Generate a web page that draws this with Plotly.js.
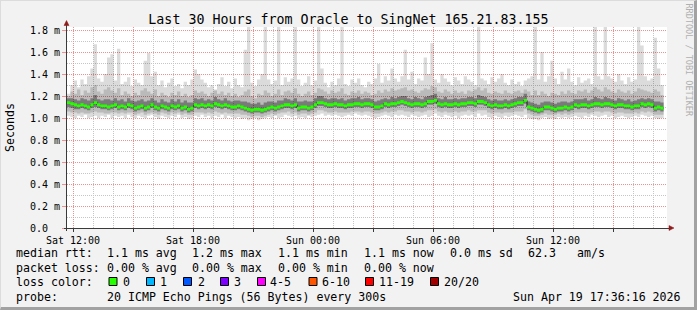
<!DOCTYPE html>
<html><head><meta charset="utf-8">
<script src="https://cdn.plot.ly/plotly-3.0.1.min.js"></script>
<style>
html,body{margin:0;padding:0;background:#f2f2f2;overflow:hidden;}
#wrap{position:relative;width:697px;height:310px;}
#chart{width:697px;height:310px;}
#frame{position:absolute;left:0;top:0;width:697px;height:310px;box-sizing:border-box;border-top:1px solid #dcdcdc;border-left:1px solid #dcdcdc;border-right:3px solid #a2a2a2;border-bottom:3px solid #a2a2a2;pointer-events:none;}
</style></head><body>
<div id="wrap"><div id="chart"></div><div id="frame"></div></div>
<script>
// ---- data (seconds, in milli units as shown on the axis) ----
const titleText = 'Last 30 Hours from Oracle to SingNet 165.21.83.155';
const yTitle = 'Seconds';
const watermark = 'RRDTOOL / TOBI OETIKER';

const med = [1.14,1.13,1.12,1.11,1.12,1.11,1.10,1.12,1.14,1.12,
1.11,1.11,1.10,1.11,1.12,1.10,1.11,1.10,1.12,1.11,
1.09,1.10,1.11,1.09,1.10,1.12,1.10,1.09,1.11,1.10,
1.09,1.11,1.10,1.11,1.09,1.10,1.08,1.09,1.12,1.11,
1.12,1.11,1.12,1.11,1.13,1.12,1.11,1.12,1.11,1.10,
1.10,1.11,1.10,1.09,1.08,1.07,1.08,1.08,1.07,1.08,
1.09,1.10,1.09,1.10,1.11,1.12,1.12,1.11,1.12,1.09,
1.10,1.10,1.09,1.10,1.12,1.14,1.14,1.13,1.12,1.12,
1.13,1.12,1.12,1.11,1.12,1.12,1.13,1.13,1.12,1.13,
1.13,1.12,1.10,1.10,1.11,1.13,1.12,1.13,1.13,1.14,
1.15,1.14,1.13,1.12,1.13,1.13,1.12,1.13,1.15,1.15,
1.16,1.13,1.12,1.13,1.12,1.12,1.13,1.12,1.13,1.13,
1.14,1.14,1.13,1.15,1.15,1.14,1.12,1.11,1.12,1.11,
1.11,1.12,1.11,1.12,1.13,1.14,1.14,1.16,1.10,1.09,
1.08,1.07,1.08,1.10,1.10,1.09,1.08,1.09,1.09,1.10,
1.09,1.10,1.12,1.11,1.12,1.12,1.11,1.12,1.13,1.13,
1.12,1.13,1.13,1.12,1.11,1.12,1.12,1.11,1.11,1.10,
1.11,1.11,1.13,1.12,1.13,1.12,1.09,1.10,1.09];

const maxV = [1.22,1.30,1.34,1.28,1.35,1.31,1.38,1.45,1.67,1.36,
1.33,1.40,1.55,1.58,1.34,1.63,1.31,1.33,1.37,1.29,
1.35,1.32,1.30,1.52,1.59,1.38,1.42,1.30,1.34,1.28,
1.32,1.36,1.29,1.31,1.27,1.33,1.30,1.35,1.44,1.40,
1.35,1.32,1.28,1.30,1.26,1.31,1.37,1.29,1.33,1.27,
1.36,1.30,1.28,1.62,1.90,1.32,1.29,1.35,1.40,1.90,
1.35,1.31,1.34,1.90,1.30,1.37,1.33,1.36,1.90,1.35,
1.29,1.32,1.38,1.30,1.34,1.90,1.45,1.32,1.28,1.33,
1.30,1.36,1.90,1.31,1.29,1.35,1.32,1.36,1.30,1.28,
1.33,1.31,1.36,1.49,1.32,1.38,1.34,1.45,1.36,1.33,
1.38,1.62,1.35,1.42,1.31,1.36,1.34,1.55,1.40,1.68,
1.35,1.32,1.40,1.36,1.33,1.30,1.37,1.34,1.31,1.38,
1.35,1.33,1.30,1.90,1.36,1.34,1.31,1.37,1.33,1.36,
1.40,1.32,1.30,1.35,1.31,1.33,1.29,1.34,1.36,1.38,
1.90,1.35,1.60,1.33,1.38,1.52,1.36,1.31,1.42,1.35,
1.45,1.33,1.30,1.37,1.32,1.34,1.36,1.31,1.90,1.38,
1.35,1.90,1.38,1.36,1.33,1.40,1.34,1.31,1.37,1.33,
1.35,1.90,1.66,1.38,1.34,1.36,1.73,1.45,1.30];

const minV = [1.02,1.01,1.00,1.02,1.01,1.03,1.00,1.01,1.02,1.00,
1.02,1.01,1.03,1.00,1.02,1.01,1.02,1.00,1.03,1.01,
1.00,1.02,1.01,1.00,1.02,1.03,1.01,0.99,1.02,1.01,
1.00,1.02,1.01,1.03,1.00,1.01,0.99,1.00,1.02,1.01,
1.03,1.01,1.02,1.00,1.02,1.01,1.03,1.00,1.02,1.01,
1.00,1.01,0.99,1.00,0.98,0.99,1.00,0.98,0.99,1.00,
1.01,1.00,1.02,1.00,1.01,1.03,1.02,1.01,1.02,1.00,
1.01,1.00,1.02,1.01,1.02,1.03,1.04,1.02,1.03,1.02,
1.03,1.02,1.01,1.02,1.03,1.02,1.04,1.03,1.02,1.03,
1.02,1.01,1.00,1.01,1.02,1.03,1.02,1.01,1.03,1.02,
1.03,1.02,1.01,1.03,1.02,1.01,1.02,1.03,1.01,1.02,
1.04,1.02,1.01,1.03,1.02,1.01,1.02,1.00,1.02,1.03,
1.02,1.03,1.01,1.04,1.02,1.03,1.01,1.00,1.02,1.01,
1.00,1.02,1.01,1.02,1.03,1.02,1.01,1.03,1.00,0.99,
0.99,0.98,1.00,1.01,0.99,1.00,0.99,1.01,1.00,1.01,
1.00,1.01,1.02,1.01,1.00,1.02,1.01,1.03,1.02,1.01,
1.02,1.03,1.01,1.02,1.00,1.01,1.02,1.01,1.00,1.01,
1.02,1.01,1.03,1.02,1.01,1.02,1.00,0.99,1.00];

const hi1 = [1.20,1.24,1.22,1.26,1.21,1.25,1.23,1.28,1.30,1.24,
1.22,1.26,1.28,1.25,1.23,1.27,1.21,1.24,1.22,1.20,
1.23,1.21,1.25,1.27,1.24,1.22,1.26,1.20,1.23,1.21,
1.19,1.23,1.21,1.24,1.20,1.22,1.19,1.21,1.25,1.23,
1.24,1.22,1.20,1.23,1.25,1.22,1.24,1.21,1.23,1.20,
1.22,1.19,1.21,1.24,1.26,1.20,1.18,1.22,1.21,1.25,
1.23,1.20,1.22,1.26,1.21,1.24,1.25,1.23,1.27,1.22,
1.20,1.22,1.24,1.21,1.23,1.27,1.26,1.24,1.22,1.25,
1.23,1.24,1.27,1.22,1.21,1.24,1.23,1.25,1.22,1.24,
1.23,1.21,1.22,1.25,1.23,1.26,1.24,1.27,1.25,1.26,
1.27,1.28,1.25,1.26,1.24,1.23,1.25,1.27,1.26,1.29,
1.28,1.24,1.23,1.26,1.24,1.22,1.25,1.23,1.24,1.22,
1.25,1.24,1.26,1.28,1.25,1.27,1.23,1.22,1.24,1.23,
1.22,1.25,1.23,1.22,1.24,1.25,1.23,1.26,1.24,1.21,
1.25,1.21,1.24,1.22,1.20,1.23,1.22,1.21,1.24,1.22,
1.25,1.23,1.22,1.25,1.24,1.26,1.23,1.25,1.28,1.26,
1.24,1.28,1.26,1.24,1.23,1.26,1.24,1.23,1.25,1.22,
1.24,1.27,1.26,1.25,1.24,1.23,1.26,1.24,1.21];

const lo1 = [1.06,1.05,1.05,1.04,1.05,1.04,1.04,1.05,1.06,1.05,
1.05,1.04,1.04,1.05,1.05,1.04,1.05,1.04,1.05,1.05,
1.03,1.04,1.05,1.03,1.04,1.05,1.04,1.03,1.05,1.04,
1.03,1.05,1.04,1.05,1.03,1.04,1.03,1.03,1.05,1.05,
1.05,1.04,1.05,1.04,1.06,1.05,1.04,1.05,1.04,1.04,
1.04,1.04,1.03,1.03,1.02,1.01,1.02,1.02,1.01,1.02,
1.03,1.04,1.03,1.04,1.05,1.05,1.06,1.04,1.05,1.03,
1.04,1.04,1.03,1.04,1.05,1.07,1.07,1.06,1.05,1.05,
1.06,1.05,1.05,1.05,1.05,1.06,1.06,1.06,1.05,1.06,
1.06,1.05,1.04,1.04,1.05,1.06,1.05,1.06,1.06,1.07,
1.07,1.06,1.06,1.05,1.06,1.06,1.05,1.06,1.07,1.07,
1.08,1.06,1.05,1.06,1.05,1.05,1.06,1.05,1.06,1.06,
1.07,1.06,1.06,1.07,1.07,1.07,1.05,1.04,1.05,1.05,
1.04,1.05,1.05,1.05,1.06,1.06,1.06,1.08,1.04,1.03,
1.02,1.02,1.03,1.04,1.03,1.03,1.03,1.04,1.03,1.04,
1.03,1.04,1.05,1.05,1.05,1.05,1.04,1.05,1.06,1.06,
1.05,1.06,1.06,1.05,1.04,1.05,1.05,1.04,1.04,1.04,
1.05,1.04,1.06,1.05,1.06,1.05,1.03,1.03,1.03];

const hi2 = [1.18,1.18,1.17,1.16,1.18,1.17,1.16,1.18,1.21,1.17,
1.16,1.17,1.17,1.16,1.18,1.16,1.17,1.15,1.18,1.16,
1.15,1.16,1.17,1.15,1.16,1.18,1.16,1.14,1.17,1.15,
1.14,1.17,1.15,1.17,1.14,1.16,1.14,1.14,1.18,1.17,
1.18,1.16,1.17,1.16,1.19,1.17,1.16,1.18,1.16,1.15,
1.16,1.16,1.15,1.15,1.14,1.13,1.13,1.14,1.12,1.14,
1.15,1.15,1.14,1.16,1.16,1.18,1.17,1.16,1.18,1.15,
1.15,1.16,1.15,1.15,1.18,1.20,1.20,1.18,1.17,1.18,
1.18,1.17,1.18,1.16,1.17,1.18,1.18,1.19,1.17,1.18,
1.18,1.17,1.15,1.16,1.17,1.18,1.17,1.19,1.18,1.19,
1.20,1.20,1.18,1.17,1.19,1.18,1.17,1.19,1.20,1.21,
1.22,1.18,1.17,1.19,1.17,1.17,1.18,1.17,1.18,1.18,
1.19,1.19,1.18,1.21,1.20,1.19,1.17,1.16,1.17,1.16,
1.16,1.17,1.16,1.17,1.18,1.19,1.19,1.22,1.15,1.14,
1.13,1.12,1.14,1.15,1.15,1.14,1.13,1.14,1.15,1.15,
1.14,1.15,1.17,1.17,1.17,1.18,1.16,1.17,1.19,1.18,
1.17,1.19,1.18,1.17,1.16,1.18,1.17,1.16,1.17,1.15,
1.16,1.17,1.18,1.17,1.18,1.17,1.15,1.15,1.14];

const lo2 = [1.10,1.09,1.08,1.08,1.09,1.08,1.07,1.09,1.10,1.09,
1.08,1.08,1.07,1.08,1.09,1.07,1.08,1.07,1.09,1.08,
1.06,1.07,1.08,1.06,1.07,1.09,1.07,1.06,1.08,1.07,
1.06,1.08,1.07,1.08,1.06,1.07,1.05,1.06,1.09,1.08,
1.09,1.08,1.09,1.08,1.10,1.09,1.08,1.09,1.08,1.07,
1.07,1.08,1.07,1.06,1.05,1.04,1.05,1.05,1.04,1.05,
1.06,1.07,1.06,1.07,1.08,1.09,1.09,1.08,1.09,1.06,
1.07,1.07,1.06,1.07,1.09,1.11,1.11,1.10,1.09,1.09,
1.10,1.09,1.09,1.08,1.09,1.09,1.10,1.10,1.09,1.10,
1.10,1.09,1.07,1.07,1.08,1.10,1.09,1.10,1.10,1.11,
1.12,1.11,1.10,1.09,1.10,1.10,1.09,1.10,1.12,1.12,
1.13,1.10,1.09,1.10,1.09,1.09,1.10,1.09,1.10,1.10,
1.11,1.11,1.10,1.12,1.12,1.11,1.09,1.08,1.09,1.08,
1.08,1.09,1.08,1.09,1.10,1.11,1.11,1.13,1.07,1.06,
1.05,1.04,1.05,1.07,1.07,1.06,1.05,1.06,1.06,1.07,
1.06,1.07,1.09,1.08,1.09,1.09,1.08,1.09,1.10,1.10,
1.09,1.10,1.10,1.09,1.08,1.09,1.09,1.08,1.08,1.07,
1.08,1.08,1.10,1.09,1.10,1.09,1.06,1.07,1.06];

const yTickVals = [0,0.2,0.4,0.6,0.8,1.0,1.2,1.4,1.6,1.8];
const yTickText = ['0.0\u00a0\u00a0','0.2 m','0.4 m','0.6 m','0.8 m','1.0 m','1.2 m','1.4 m','1.6 m','1.8 m'];
const yMinorVals = [0.1,0.3,0.5,0.7,0.9,1.1,1.3,1.5,1.7];
const xTickText = ['Sat 12:00','','Sat 18:00','','Sun 00:00','','Sun 06:00','','Sun 12:00',''];

const rttLabel = 'median rtt:';
const rttStats = ['1.1 ms avg','1.2 ms max','1.1 ms min','1.1 ms now','0.0 ms sd','62.3','am/s'];
const lossLabel = 'packet loss:';
const lossStats = ['0.00 % avg','0.00 % max','0.00 % min','0.00 % now'];
const lossColorLabel = 'loss color:';
const lossBuckets = ['0','1','2','3','4-5','6-10','11-19','20/20'];
const lossColors = ['#26ff00','#00b8ff','#0059ff','#7e00ff','#ff00ff','#ff5500','#ff0000','#a00000'];
const probeLabel = 'probe:';
const probeText = '20 ICMP Echo Pings (56 Bytes) every 300s';
const stampText = 'Sun Apr 19 17:36:16 2026';

// ---- time base ----
const HOUR = 3600000;
const STEP = 600000; // 10 min
const t0 = Date.UTC(2026,3,18,11,42);
const tEnd = t0 + 30*HOUR;
const N = med.length;
const edges = [];
for (let i = 0; i <= N; i++) edges.push(t0 + i*STEP);
const ext = a => a.concat([a[a.length-1]]);

const firstTick = Date.UTC(2026,3,18,12,0);
const xTickVals = xTickText.map((_, k) => firstTick + k*3*HOUR);
const xMinorVals = [];
for (let h = 0; h < 30; h++) if (h % 3 !== 0) xMinorVals.push(firstTick + h*HOUR);

// ---- styles ----
const MONO = 'DejaVu Sans Mono, monospace';
const RED = '#ef8f8f';
const GRAY = '#c6c6c6';
const DOTS = '1px,1px';

const traces = [];
function band(lo, hi, color) {
  traces.push({x: edges, y: ext(lo), type:'scatter', mode:'lines', line:{width:0, shape:'hv'}, hoverinfo:'skip', showlegend:false});
  traces.push({x: edges, y: ext(hi), type:'scatter', mode:'lines', line:{width:0, shape:'hv'}, fill:'tonexty', fillcolor: color, hoverinfo:'skip', showlegend:false});
}
band(minV, maxV, 'rgba(0,0,0,0.14)');
band(lo1, hi1, 'rgba(0,0,0,0.15)');
band(lo2, hi2, 'rgba(0,0,0,0.34)');
traces.push({x: edges, y: ext(med), type:'scatter', mode:'lines', line:{color:'#1c1c1c', width:1, shape:'hv'}, hoverinfo:'skip', showlegend:false});
const HW = 0.013;
band(med.map(v => v - HW), med.map(v => v + HW), lossColors[0]);

// pixel helpers (plot area: x 67..667, y 27..228)
const PX = px => (px - 67) / 600;
const PY = py => (228 - py) / 201;

const annotations = [];
function txt(text, px, py, extra) {
  annotations.push(Object.assign({text: text, xref:'paper', yref:'paper', x: PX(px), y: PY(py), xanchor:'left', yanchor:'middle', showarrow:false, borderpad:0, borderwidth:0, font:{family:MONO, size:11.6, color:'#000'}}, extra || {}));
}
const rowY = [253, 268, 282, 296.5];
const colX = [108, 193, 279, 365, 451, 529, 578];
txt(rttLabel, 15.5, rowY[0]);
rttStats.forEach((s, k) => txt(s, colX[k] - 0.8, rowY[0]));
txt(lossLabel, 15.5, rowY[1]);
lossStats.forEach((s, k) => txt(s, colX[k] - 0.8, rowY[1]));
txt(lossColorLabel, 15.5, rowY[2]);
const boxX = [108.5, 146, 183, 220, 257, 308.5, 365, 430];
const labX = [123.3, 160.7, 198.3, 234.3, 271, 322.7, 380, 445];
const shapes = [];
lossBuckets.forEach((b, k) => {
  txt(b, labX[k] - 0.8, rowY[2]);
  shapes.push({type:'rect', xref:'paper', yref:'paper', x0: PX(boxX[k] + 0.5), x1: PX(boxX[k] + 8.5), y0: PY(277.5), y1: PY(285.5), fillcolor: lossColors[k], line:{color:'#000', width:1}});
});
txt(probeLabel, 15.5, rowY[3]);
txt(probeText, colX[0] - 0.8, rowY[3]);
txt(stampText, 512.5, rowY[3]);
annotations.push({text: watermark, xref:'paper', yref:'paper', x: PX(688.5), y: PY(60), xanchor:'center', yanchor:'middle', textangle:90, showarrow:false, font:{family:MONO, size:8.5, color:'#b0b0b0'}});

// axes lines + arrowheads (pixel sized, anchored at plot origin)
const AX = '#3a3a3a', ARW = '#8e1c1c';
shapes.push({type:'path', xref:'paper', yref:'paper', xsizemode:'pixel', ysizemode:'pixel', xanchor:0, yanchor:0, path:'M -0.5,-3 L -0.5,203', line:{color:AX, width:1}});
shapes.push({type:'path', xref:'paper', yref:'paper', xsizemode:'pixel', ysizemode:'pixel', xanchor:0, yanchor:0, path:'M -3,-0.5 L 603,-0.5', line:{color:AX, width:1}});
shapes.push({type:'path', xref:'paper', yref:'paper', xsizemode:'pixel', ysizemode:'pixel', xanchor:0, yanchor:0, path:'M -0.5,207.5 L -3,202.5 L 2,202.5 Z', fillcolor:ARW, line:{color:ARW, width:0.5}});
shapes.push({type:'path', xref:'paper', yref:'paper', xsizemode:'pixel', ysizemode:'pixel', xanchor:0, yanchor:0, path:'M 607,0 L 602,2.5 L 602,-2.5 Z', fillcolor:ARW, line:{color:ARW, width:0.5}});

const layout = {
  width: 697, height: 310,
  margin: {l:67, r:30, t:27, b:82, pad:0},
  paper_bgcolor: 'rgba(0,0,0,0)', plot_bgcolor: '#ffffff',
  font: {family: MONO, size: 10, color: '#000'},
  showlegend: false,
  title: {text: titleText, xref:'container', yref:'container', x: 348.5/697, xanchor:'center', y: 1 - 19.5/310, yanchor:'middle', font:{family:MONO, size:13.3, color:'#000'}},
  xaxis: {type:'date', range:[t0, tEnd], tickmode:'array', tickvals:xTickVals, ticktext:xTickText,
    showgrid:true, gridcolor:RED, griddash:DOTS, gridwidth:1, ticks:'outside', ticklen:3, tickcolor:AX,
    showline:false, zeroline:false, tickfont:{family:MONO, size:10, color:'#000'}, fixedrange:true,
    minor:{tickmode:'array', tickvals:xMinorVals, showgrid:true, gridcolor:GRAY, griddash:DOTS, gridwidth:1, ticks:''}},
  yaxis: {range:[0, 201/110], tickmode:'array', tickvals:yTickVals, ticktext:yTickText,
    showgrid:true, gridcolor:RED, griddash:DOTS, gridwidth:1, ticks:'outside', ticklen:4, tickcolor:RED,
    showline:false, zeroline:false, tickfont:{family:MONO, size:10, color:'#000'}, fixedrange:true,
    title:{text:yTitle, font:{family:MONO, size:11.6, color:'#000'}, standoff:12},
    minor:{tickmode:'array', tickvals:yMinorVals, showgrid:true, gridcolor:GRAY, griddash:DOTS, gridwidth:1, ticks:''}},
  shapes: shapes,
  annotations: annotations
};

Plotly.newPlot('chart', traces, layout, {staticPlot:true, displayModeBar:false});
</script></body></html>
